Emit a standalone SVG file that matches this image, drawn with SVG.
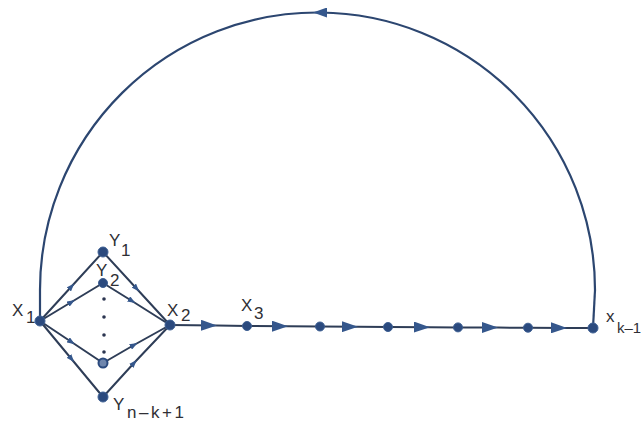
<svg xmlns="http://www.w3.org/2000/svg" width="644" height="423" viewBox="0 0 644 423">
  <style>
    .edge { fill: none; stroke: #2e3d57; stroke-width: 2; stroke-linecap: round; }
    .arc { fill: none; stroke: #2c4670; stroke-width: 2.2; }
    .node { fill: #2b4a7e; stroke: #3d5f93; stroke-width: 1; }
    .lbl { font-family: "Liberation Sans", Arial, sans-serif; font-size: 17px; fill: #2f2f35; }
  </style>
  <defs>
    <marker id="bigArrow" viewBox="0 0 16 11" refX="16" refY="5.5" markerWidth="16" markerHeight="11" markerUnits="userSpaceOnUse" orient="auto">
      <path d="M0,0 L16,5.5 L0,11 Z" fill="#35578c"/>
    </marker>
    <marker id="smallArrow" viewBox="0 0 8 6" refX="4" refY="3" markerWidth="8" markerHeight="6" markerUnits="userSpaceOnUse" orient="auto">
      <path d="M0,0 L8,3 L0,6 Z" fill="#35578c"/>
    </marker>
    <marker id="topArrow" viewBox="0 0 14 10" refX="7" refY="5" markerWidth="14" markerHeight="10" markerUnits="userSpaceOnUse" orient="auto">
      <path d="M0,0 L14,5 L0,10 Z" fill="#35578c"/>
    </marker>
  </defs>

  <g id="connectors">
    <!-- big return arc -->
    <path class="arc" d="M593,328 L595,290"/>
    <path class="arc" d="M595,290 A277.5,277.5 0 0 0 320,12.5 A277.5,277.5 0 0 0 40,290" marker-mid="url(#topArrow)"/>
    <path class="arc" d="M40,290 L40,321"/>
    <!-- diamond edges -->
    <path class="edge" d="M40,321 L71.5,286.5 L103,252" marker-mid="url(#smallArrow)"/>
    <path class="edge" d="M40,321 L71.5,302 L103,283" marker-mid="url(#smallArrow)"/>
    <path class="edge" d="M40,321 L71.5,342 L103,363" marker-mid="url(#smallArrow)"/>
    <path class="edge" d="M40,321 L71.5,359 L103,397" marker-mid="url(#smallArrow)"/>
    <path class="edge" d="M103,252 L136.5,288.5 L170,325" marker-mid="url(#smallArrow)"/>
    <path class="edge" d="M103,283 L132,301 L170,325" marker-mid="url(#smallArrow)"/>
    <path class="edge" d="M103,363 L134,345 L170,325" marker-mid="url(#smallArrow)"/>
    <path class="edge" d="M103,397 L134,363 L170,325" marker-mid="url(#smallArrow)"/>
    <!-- main chain -->
    <path class="edge" d="M170,325 L217,325.5 L247,326" marker-mid="url(#bigArrow)"/>
    <path class="edge" d="M247,326 L288,326.3 L320,326.5" marker-mid="url(#bigArrow)"/>
    <path class="edge" d="M320,326.5 L358,326.8 L388,327" marker-mid="url(#bigArrow)"/>
    <path class="edge" d="M388,327 L430,327.2 L458,327.4" marker-mid="url(#bigArrow)"/>
    <path class="edge" d="M458,327.4 L498,327.6 L528,327.7" marker-mid="url(#bigArrow)"/>
    <path class="edge" d="M528,327.7 L567,327.9 L593,328" marker-mid="url(#bigArrow)"/>
  </g>

  <g id="X1">
    <circle class="node" cx="40" cy="321" r="5"/>
    <text class="lbl" x="12" y="316">X</text>
    <text class="lbl" x="26" y="323">1</text>
  </g>
  <g id="Y1">
    <circle class="node" cx="103" cy="252" r="5"/>
    <text class="lbl" x="109" y="246">Y</text>
    <text class="lbl" x="121" y="256">1</text>
  </g>
  <g id="Y2">
    <circle class="node" cx="103" cy="283" r="4.5"/>
    <text class="lbl" x="96" y="276">Y</text>
    <text class="lbl" x="110" y="286">2</text>
  </g>
  <g id="dots">
    <circle cx="104" cy="299" r="1.8" fill="#2b3550"/>
    <circle cx="104" cy="317" r="1.8" fill="#2b3550"/>
    <circle cx="104" cy="335" r="1.8" fill="#2b3550"/>
    <circle cx="104" cy="352" r="1.8" fill="#2b3550"/>
  </g>
  <g id="Ynk">
    <circle cx="103" cy="363" r="4.5" fill="#6f86ad" stroke="#2b4a7e" stroke-width="2"/>
  </g>
  <g id="Ynk1">
    <circle class="node" cx="103" cy="397" r="5"/>
    <text class="lbl" x="113" y="410">Y</text>
    <text class="lbl" x="127" y="418" textLength="57" lengthAdjust="spacing">n–k+1</text>
  </g>
  <g id="X2">
    <circle class="node" cx="170" cy="325" r="5"/>
    <text class="lbl" x="167" y="316">X</text>
    <text class="lbl" x="181" y="321">2</text>
  </g>
  <g id="X3">
    <circle class="node" cx="247" cy="326" r="4.5"/>
    <text class="lbl" x="241" y="311">X</text>
    <text class="lbl" x="254" y="319">3</text>
  </g>
  <g id="N4"><circle class="node" cx="320" cy="326.5" r="4.5"/></g>
  <g id="N5"><circle class="node" cx="388" cy="327" r="4.5"/></g>
  <g id="N6"><circle class="node" cx="458" cy="327.4" r="4.5"/></g>
  <g id="N7"><circle class="node" cx="528" cy="327.7" r="4.5"/></g>
  <g id="Xk1">
    <circle class="node" cx="593" cy="328" r="5"/>
    <text class="lbl" x="606" y="322">x</text>
    <text class="lbl" x="617" y="333" style="font-size:15px">k–1</text>
  </g>
</svg>
